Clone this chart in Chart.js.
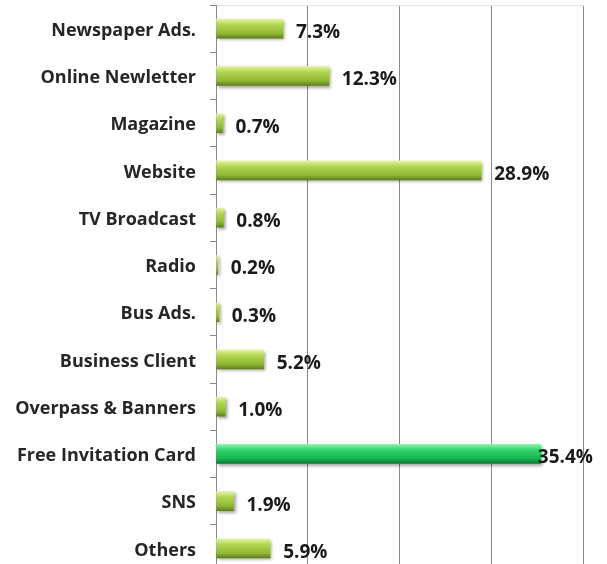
<!DOCTYPE html>
<html>
<head>
<meta charset="utf-8">
<script src="https://cdn.jsdelivr.net/npm/chart.js@4/dist/chart.umd.min.js"></script>
<style>
  html, body { margin: 0; padding: 0; background: #fff; overflow: hidden; }
  canvas { display: block; }
</style>
</head>
<body>
<canvas id="chart" width="607" height="572"></canvas>
<script>
// channels people heard about the event from, in percent
const channels = [
  'Newspaper Ads.', 'Online Newletter', 'Magazine', 'Website', 'TV Broadcast',
  'Radio', 'Bus Ads.', 'Business Client', 'Overpass & Banners',
  'Free Invitation Card', 'SNS', 'Others'
];
const shares = [7.3, 12.3, 0.7, 28.9, 0.8, 0.2, 0.3, 5.2, 1.0, 35.4, 1.9, 5.9];
const highlight = 'Free Invitation Card';
const axisTicks = [0, 10, 20, 30, 40];

// vertical gradient so each bar looks like a rounded tube
function barFill(context) {
  const chart = context.chart;
  const yScale = chart.scales.y;
  if (!yScale || !chart.chartArea) return '#9cc43c';
  const y = yScale.getPixelForValue(context.dataIndex);
  const g = chart.ctx.createLinearGradient(0, y - 9.5, 0, y + 9.5);
  if (channels[context.dataIndex] === highlight) {
    g.addColorStop(0, '#8af2aa');
    g.addColorStop(0.3, '#30d46c');
    g.addColorStop(0.75, '#18b450');
    g.addColorStop(1, '#0c7a34');
  } else {
    g.addColorStop(0, '#e4f2a4');
    g.addColorStop(0.3, '#b2d650');
    g.addColorStop(0.75, '#90b834');
    g.addColorStop(1, '#5e801e');
  }
  return g;
}

// soft drop shadow under the bars
const barShadow = {
  id: 'barShadow',
  beforeDatasetsDraw(chart) {
    const ctx = chart.ctx;
    ctx.save();
    ctx.shadowColor = 'rgba(0, 0, 0, 0.35)';
    ctx.shadowBlur = 3;
    ctx.shadowOffsetX = 2;
    ctx.shadowOffsetY = 2;
  },
  afterDatasetsDraw(chart) {
    chart.ctx.restore();
  }
};

// percentage text just past the end of each bar
const valueLabels = {
  id: 'valueLabels',
  afterDatasetsDraw(chart) {
    const ctx = chart.ctx;
    const meta = chart.getDatasetMeta(0);
    ctx.save();
    ctx.font = 'bold 19px "Open Sans", "Liberation Sans", sans-serif';
    ctx.fillStyle = '#1a1a1a';
    ctx.textBaseline = 'middle';
    meta.data.forEach((bar, i) => {
      const gap = channels[i] === highlight ? -3 : 13;
      ctx.fillText(shares[i].toFixed(1) + '%', bar.x + gap, bar.y + 4);
    });
    ctx.restore();
  }
};

new Chart(document.getElementById('chart'), {
  type: 'bar',
  data: {
    labels: channels,
    datasets: [{
      data: shares,
      backgroundColor: barFill,
      borderWidth: 0,
      barThickness: 19
    }]
  },
  plugins: [barShadow, valueLabels],
  options: {
    indexAxis: 'y',
    responsive: false,
    animation: false,
    layout: { padding: { top: 0, right: 24, bottom: 0, left: 0 } },
    plugins: {
      legend: { display: false },
      tooltip: { enabled: false }
    },
    scales: {
      x: {
        position: 'top',
        min: axisTicks[0],
        max: axisTicks[axisTicks.length - 1],
        afterBuildTicks(scale) {
          scale.ticks = axisTicks.map(v => ({ value: v }));
        },
        ticks: { display: false },
        grid: { color: '#8a8a8a', lineWidth: 1, drawTicks: false },
        border: { display: true, color: '#e4e4e4' },
        afterFit(scale) {
          scale.height = 5;
          scale.paddingLeft = 0;
          scale.paddingRight = 0;
        }
      },
      y: {
        grid: {
          offset: true,
          drawOnChartArea: false,
          drawTicks: true,
          tickLength: 6,
          color: '#8a8a8a'
        },
        border: { display: true, color: '#8a8a8a' },
        ticks: {
          color: '#262626',
          padding: 14,
          labelOffset: 2,
          font: { family: '"Open Sans", "Liberation Sans", sans-serif', size: 18, weight: 'bold' }
        },
        afterFit(scale) {
          scale.width = 216;
          scale.paddingTop = 0;
          scale.paddingBottom = 0;
        }
      }
    }
  }
});
</script>
</body>
</html>
